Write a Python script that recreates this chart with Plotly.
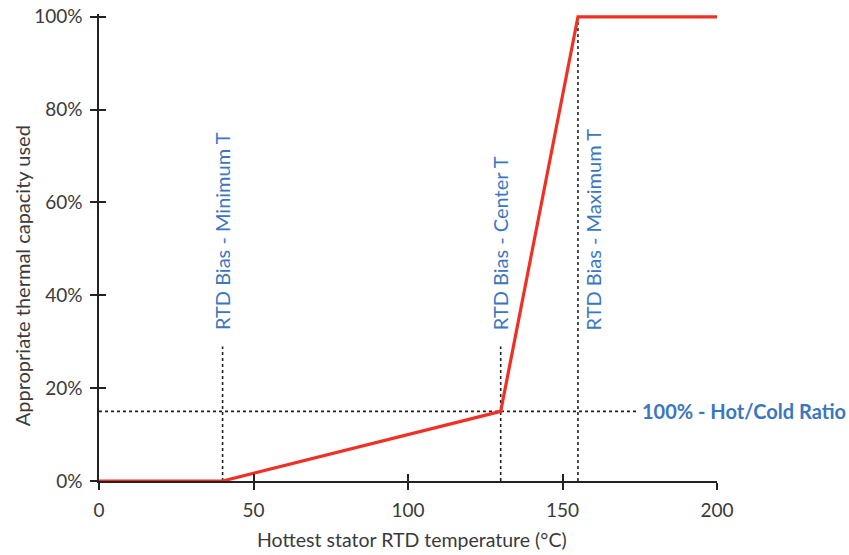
import plotly.graph_objects as go

# Data
curve_x = [0, 40, 130, 155, 200]
curve_y = [0, 0, 15, 100, 100]
bias_x = [40, 130, 155]
bias_top = [29, 29, 100]
bias_labels = ["RTD Bias - Minimum T", "RTD Bias - Center T", "RTD Bias - Maximum T"]
bias_label_shift = [0, 0, 15]
ratio_y = 15
ratio_end = 174
ratio_label = "100% - Hot/Cold Ratio"
x_ticks = [0, 50, 100, 150, 200]
y_ticks = [0, 20, 40, 60, 80, 100]
y_ticklabels = ["0%", "20%", "40%", "60%", "80%", "100%"]
x_title = "Hottest stator RTD temperature (°C)"
y_title = "Appropriate thermal capacity used"

FONT = "Lato"
TXT = "#3a3a3a"
BLUE = "#3b76c1"
RED = "#ee3124"

fig = go.Figure()

# dotted vertical guide lines
for bx, bt in zip(bias_x, bias_top):
    fig.add_trace(go.Scatter(x=[bx, bx], y=[0, bt], mode="lines",
                             line=dict(color="#222222", width=1.6, dash="dot"),
                             hoverinfo="skip", showlegend=False))
# dotted horizontal guide line
fig.add_trace(go.Scatter(x=[0, ratio_end], y=[ratio_y, ratio_y], mode="lines",
                         line=dict(color="#222222", width=1.6, dash="dot"),
                         hoverinfo="skip", showlegend=False))
# main curve
fig.add_trace(go.Scatter(x=curve_x, y=curve_y, mode="lines",
                         line=dict(color=RED, width=3.2),
                         cliponaxis=False, showlegend=False))
# invisible trace for overlay axes (inside ticks)
fig.add_trace(go.Scatter(x=[0], y=[0], xaxis="x2", yaxis="y2", mode="markers",
                         marker=dict(opacity=0), hoverinfo="skip", showlegend=False))

for bx, lab, sh in zip(bias_x, bias_labels, bias_label_shift):
    fig.add_annotation(x=bx, y=32, text=lab, textangle=-90, showarrow=False,
                       xanchor="center", yanchor="bottom", xshift=sh,
                       font=dict(family=FONT, size=20, color=BLUE))

fig.add_annotation(x=ratio_end + 1, y=ratio_y, text="<b>" + ratio_label + "</b>",
                   showarrow=False, xanchor="left", yanchor="middle",
                   font=dict(family=FONT, size=20, color=BLUE))

fig.add_annotation(xref="paper", yref="paper", x=0.506, y=-0.126, text=x_title,
                   showarrow=False, xanchor="center", yanchor="middle",
                   font=dict(family=FONT, size=19.5, color=TXT))
fig.add_annotation(xref="paper", yref="paper", x=-0.125, y=0.44, text=y_title,
                   textangle=-90, showarrow=False, xanchor="center", yanchor="middle",
                   font=dict(family=FONT, size=20, color=TXT))

axis_common = dict(showgrid=False, zeroline=False, automargin=False)

fig.update_layout(
    width=849, height=555,
    margin=dict(l=99, r=132, t=14, b=74, autoexpand=False),
    plot_bgcolor="white", paper_bgcolor="white",
    font=dict(family=FONT, color=TXT),
    xaxis=dict(range=[0, 200], tickvals=x_ticks, ticks="outside", ticklen=7,
               tickwidth=1.5, tickcolor="#222", showline=True, linecolor="#222",
               linewidth=1.5, tickfont=dict(size=19, color=TXT),
               ticklabelstandoff=4, **axis_common),
    yaxis=dict(range=[0, 100.6], tickvals=y_ticks, ticktext=y_ticklabels,
               ticks="outside", ticklen=7, tickwidth=1.5, tickcolor="#222",
               showline=True, linecolor="#222", linewidth=1.5,
               tickfont=dict(size=19, color=TXT), ticklabelstandoff=4,
               **axis_common),
    xaxis2=dict(range=[0, 200], tickvals=x_ticks, overlaying="x", anchor="y2",
                side="bottom", ticks="inside", ticklen=7, tickwidth=1.5,
                tickcolor="#222", showticklabels=False, showline=False,
                **axis_common),
    yaxis2=dict(range=[0, 100.6], tickvals=y_ticks, overlaying="y", anchor="x2",
                side="left", ticks="inside", ticklen=7, tickwidth=1.5,
                tickcolor="#222", showticklabels=False, showline=False,
                **axis_common),
)

fig.write_html("out.html", config={"displayModeBar": False},
               post_script="document.body.style.margin='0';document.body.style.overflow='hidden';")
